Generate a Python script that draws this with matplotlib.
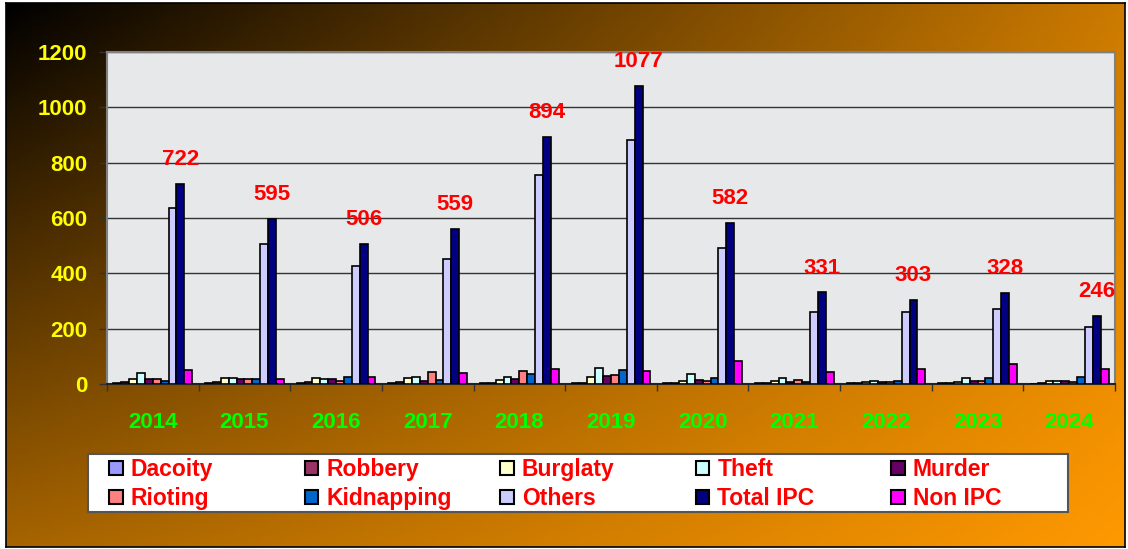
import numpy as np
import matplotlib
matplotlib.use('Agg')
import matplotlib.pyplot as plt
from matplotlib.patches import Patch, Rectangle

plt.rcParams['font.family'] = ['Liberation Sans', 'DejaVu Sans']
plt.rcParams['font.weight'] = 'bold'

years = ['2014', '2015', '2016', '2017', '2018', '2019', '2020', '2021', '2022', '2023', '2024']

dacoity    = [2, 3, 3, 3, 2, 2, 2, 2, 3, 2, 1]
robbery    = [8, 7, 8, 8, 5, 5, 5, 5, 5, 5, 2]
burglaty   = [18, 20, 20, 20, 14, 27, 12, 11, 8, 8, 12]
theft      = [40, 20, 18, 24, 24, 57, 35, 23, 12, 20, 12]
murder     = [18, 18, 17, 12, 17, 30, 14, 8, 8, 12, 12]
rioting    = [17, 17, 12, 45, 48, 32, 12, 14, 8, 12, 8]
kidnapping = [12, 17, 26, 14, 35, 51, 20, 8, 12, 20, 24]
others     = [635, 506, 428, 451, 756, 882, 493, 259, 260, 272, 207]
total_ipc  = [722, 595, 506, 559, 894, 1077, 582, 331, 303, 328, 246]
non_ipc    = [50, 18, 24, 38, 53, 48, 83, 45, 54, 71, 54]

series = [
    ('Dacoity', dacoity, '#9999FF'),
    ('Robbery', robbery, '#993366'),
    ('Burglaty', burglaty, '#FFFFCC'),
    ('Theft', theft, '#CCFFFF'),
    ('Murder', murder, '#660066'),
    ('Rioting', rioting, '#FF8080'),
    ('Kidnapping', kidnapping, '#0066CC'),
    ('Others', others, '#CCCCFF'),
    ('Total IPC', total_ipc, '#000080'),
    ('Non IPC', non_ipc, '#FF00FF'),
]

W, H = 1128, 549
fig = plt.figure(figsize=(W / 100, H / 100), dpi=100)

# background gradient (dark top-left -> orange bottom-right)
bg = fig.add_axes([6 / W, 2 / H, 1119 / W, 544 / H])
gx, gy = np.meshgrid(np.linspace(0, 1, 300), np.linspace(0, 1, 150))
t = np.clip(0.8 * gx + 0.65 * gy - 0.45 * gx * gy, 0, 1)
c0 = np.array([0.0, 0.0, 0.0])
c1 = np.array([1.0, 0.60, 0.0])
img = c0 + (c1 - c0) * t[..., None]
bg.imshow(img, aspect='auto', extent=[0, 1, 1, 0])
bg.set_xticks([])
bg.set_yticks([])
for s in bg.spines.values():
    s.set_color('black')
    s.set_linewidth(1.2)

ax = fig.add_axes([107 / W, 1 - 384 / H, (1115 - 107) / W, (384 - 52) / H])
ax.set_facecolor('#E6E8EA')

n = len(series)
x = np.arange(len(years))
group = 0.86
bw = group / n
for i, (name, vals, col) in enumerate(series):
    off = -group / 2 + bw * (i + 0.5)
    ax.bar(x + off, vals, bw, color=col, edgecolor='black', linewidth=1.2,
           label=name, zorder=3)

ti = [s[0] for s in series].index('Total IPC')
off_t = -group / 2 + bw * (ti + 0.5)
for xi, v in zip(x, total_ipc):
    ax.annotate(str(v), (xi + off_t, v), xytext=(0, 10), textcoords='offset points',
                ha='center', va='bottom', color='red', fontsize=16, fontweight='bold',
                zorder=5)

ax.set_xlim(-0.5, len(years) - 0.5)
ax.set_ylim(0, 1200)
ax.set_yticks(np.arange(0, 1201, 200))
ax.yaxis.grid(True, color='#333333', linewidth=1, zorder=1)
ax.tick_params(axis='y', colors='#333333', length=6, width=1, pad=8,
               labelcolor='#FFFF00', labelsize=16)
ax.set_xticks(x)
ax.set_xticklabels(years)
ax.set_xticks(np.arange(-0.5, len(years)), minor=True)
ax.tick_params(axis='x', which='major', length=0, pad=20, labelcolor='#00FF00', labelsize=16)
ax.tick_params(axis='x', which='minor', length=5, width=1, color='#333333')
for lab in ax.get_xticklabels() + ax.get_yticklabels():
    lab.set_fontweight('bold')
ax.spines['top'].set_color('#808080')
ax.spines['right'].set_color('#808080')
ax.spines['left'].set_color('#808080')
ax.spines['bottom'].set_color('#222222')
for s in ax.spines.values():
    s.set_linewidth(1.5)

# legend box, one small legend per column so columns sit at even spacing
fig.patches.append(Rectangle((88 / W, 1 - 512 / H), (1068 - 88) / W, 58 / H,
                             transform=fig.transFigure, facecolor='white',
                             edgecolor='#555555', linewidth=1.5, zorder=4))
handles = [Patch(facecolor=c, edgecolor='black', linewidth=1.5, label=nm) for nm, v, c in series]
for k in range(5):
    col_h = [handles[k], handles[k + 5]]
    leg = fig.legend(handles=col_h, ncol=1, loc='center left',
                     bbox_to_anchor=(109 / W + k * 195.5 / W, 1 - 484 / H),
                     fontsize=16.5, frameon=False,
                     handlelength=0.6, handleheight=0.6, handletextpad=0.35,
                     borderaxespad=0, borderpad=0, labelspacing=0.25)
    leg.set_zorder(5)
    for txt in leg.get_texts():
        txt.set_color('red')
        txt.set_fontweight('bold')

fig.savefig('out.png', dpi=100)
